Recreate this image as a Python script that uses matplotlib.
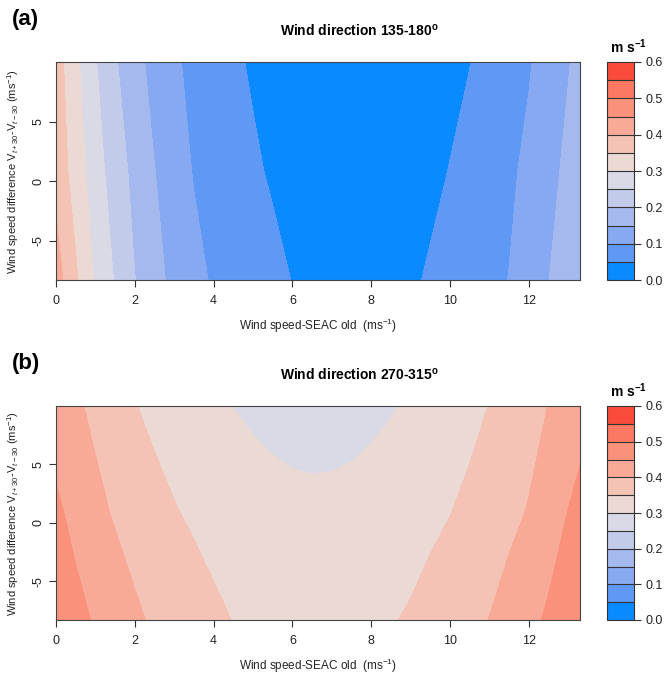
import numpy as np
import matplotlib
matplotlib.use('Agg')
import matplotlib.pyplot as plt

plt.rcParams['font.family'] = 'Liberation Sans'
plt.rcParams['mathtext.fontset'] = 'custom'
plt.rcParams['mathtext.rm'] = 'Liberation Sans'
plt.rcParams['mathtext.it'] = 'Liberation Sans:italic'
plt.rcParams['mathtext.bf'] = 'Liberation Sans:bold'
plt.rcParams['axes.unicode_minus'] = False

# grid nodes: wind speed (x) and wind speed difference (y)
wind_speed = [0, 0.5, 1, 1.5, 2, 2.5, 3, 3.5, 4, 4.5, 5, 5.5, 6, 6.5, 7,
              7.5, 8, 8.5, 9, 9.5, 10, 10.5, 11, 11.5, 12, 12.5, 13, 13.3]
speed_diff = [-8.3, 0.9, 10]

# panel (a) wind direction 135-180, values read per row (bottom, middle, top)
a_bottom = [0.424, 0.357, 0.294, 0.246, 0.201, 0.166, 0.137, 0.113, 0.095, 0.084,
            0.073, 0.061, 0.049, 0.040, 0.035, 0.033, 0.034, 0.038, 0.045, 0.054,
            0.066, 0.077, 0.089, 0.101, 0.125, 0.149, 0.179, 0.197]
a_middle = [0.383, 0.328, 0.272, 0.225, 0.186, 0.151, 0.122, 0.097, 0.083, 0.069,
            0.056, 0.045, 0.038, 0.033, 0.030, 0.028, 0.028, 0.030, 0.035, 0.042,
            0.051, 0.064, 0.078, 0.092, 0.110, 0.135, 0.161, 0.180]
a_top = [0.374, 0.311, 0.253, 0.205, 0.166, 0.134, 0.107, 0.088, 0.072, 0.057,
         0.045, 0.038, 0.033, 0.029, 0.026, 0.025, 0.025, 0.026, 0.029, 0.034,
         0.041, 0.049, 0.064, 0.080, 0.096, 0.120, 0.147, 0.163]

# panel (b) wind direction 270-315
b_bottom = [0.487, 0.465, 0.445, 0.426, 0.408, 0.393, 0.382, 0.371, 0.359, 0.349,
            0.3432, 0.3384, 0.3353, 0.334, 0.3346, 0.3369, 0.3411, 0.347, 0.355, 0.366,
            0.377, 0.389, 0.401, 0.419, 0.438, 0.457, 0.475, 0.487]
b_middle = [0.459, 0.436, 0.413, 0.395, 0.380, 0.366, 0.353, 0.343, 0.334, 0.3245,
            0.3182, 0.3134, 0.3103, 0.309, 0.3096, 0.3119, 0.3161, 0.322, 0.330, 0.340,
            0.349, 0.361, 0.375, 0.388, 0.403, 0.427, 0.451, 0.466]
b_top = [0.426, 0.408, 0.389, 0.370, 0.352, 0.338, 0.327, 0.318, 0.310, 0.2995,
         0.2932, 0.2884, 0.2853, 0.284, 0.2846, 0.2869, 0.2911, 0.297, 0.305, 0.315,
         0.326, 0.337, 0.351, 0.365, 0.382, 0.401, 0.419, 0.430]

levels = [0, 0.05, 0.1, 0.15, 0.2, 0.25, 0.3, 0.35, 0.4, 0.45, 0.5, 0.55, 0.6]
fill_colors = ['#0A8AFF', '#6099F5', '#87A9F2', '#A6B9EE', '#C3CBEB', '#D9DAE5',
               '#EBD9D3', '#F5C3B5', '#F8AA97', '#FA917B', '#FB7862', '#F94B3A']
cbar_ticks = [0.0, 0.1, 0.2, 0.3, 0.4, 0.5, 0.6]

W, H = 666, 678
fig = plt.figure(figsize=(W / 100, H / 100), dpi=100)


def px_box(left, top, right, bottom):
    return [left / W, 1 - bottom / H, (right - left) / W, (bottom - top) / H]


def panel(rows, top, bottom, letter, title):
    ax = fig.add_axes(px_box(56, top, 580, bottom))
    z = np.array(rows)
    cs = ax.contourf(wind_speed, speed_diff, z, levels=levels, colors=fill_colors)
    ax.set_xlim(0, 13.3)
    ax.set_ylim(-8.3, 10)
    ax.set_xticks([0, 2, 4, 6, 8, 10, 12])
    ax.set_yticks([-5, 0, 5])
    ax.tick_params(direction='out', length=5, width=0.8, labelsize=9,
                   colors='#333333', labelcolor='#222222')
    ax.tick_params(axis='x', pad=6)
    plt.setp(ax.get_yticklabels(), rotation=90, va='center')
    for s in ax.spines.values():
        s.set_color('#444444')
        s.set_linewidth(0.8)
    ax.set_xlabel('Wind speed-SEAC old  (ms$^{-1}$)', fontsize=8.5, labelpad=7,
                  color='#222222')
    ax.set_ylabel('Wind speed difference V$_{t+30}$-V$_{t-30}$ (ms$^{-1}$)',
                  fontsize=8, labelpad=8, color='#222222')

    cax = fig.add_axes(px_box(607, top, 634, bottom))
    cb = fig.colorbar(cs, cax=cax, ticks=cbar_ticks, drawedges=True)
    cb.dividers.set_color('#333333')
    cb.dividers.set_linewidth(0.8)
    cb.outline.set_edgecolor('#333333')
    cb.outline.set_linewidth(0.8)
    cb.ax.set_yticklabels(['%.1f' % t for t in cbar_ticks])
    cb.ax.tick_params(length=5, width=0.8, labelsize=9, colors='#333333',
                      labelcolor='#222222')

    fig.text(12 / W, 1 - (top - 42) / H, letter, fontsize=16, fontweight='bold',
             va='center', ha='left')
    fig.text(359 / W, 1 - (top - 31) / H, title, fontsize=10, fontweight='bold',
             va='center', ha='center')
    fig.text(628 / W, 1 - (top - 15) / H, r'm s$^{\mathbf{-1}}$', fontsize=10,
             fontweight='bold', va='center', ha='center')
    return ax


panel([a_bottom, a_middle, a_top], 62, 280, '(a)',
      r'Wind direction 135-180$^{\mathbf{o}}$')
panel([b_bottom, b_middle, b_top], 406, 620, '(b)',
      r'Wind direction 270-315$^{\mathbf{o}}$')

fig.savefig('out.png', dpi=100)
